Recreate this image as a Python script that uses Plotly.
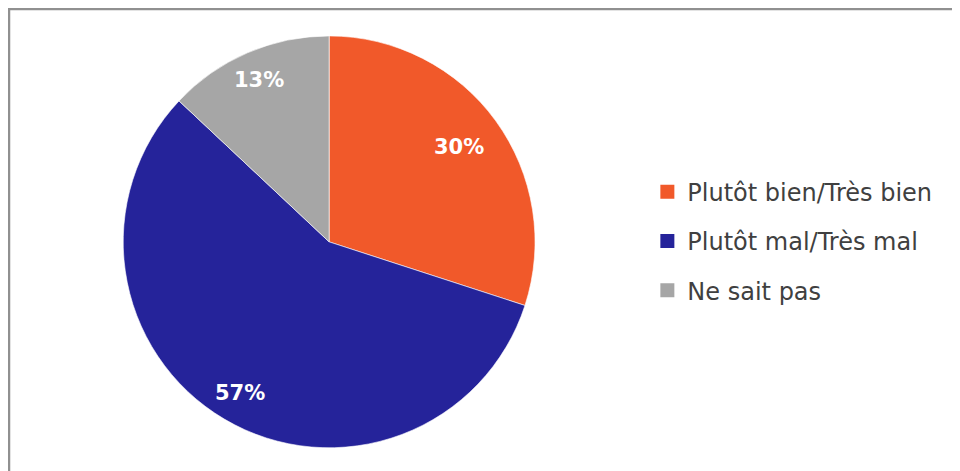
import math
import plotly.graph_objects as go

labels = ["Plutôt bien/Très bien", "Plutôt mal/Très mal", "Ne sait pas"]
values = [30, 57, 13]
colors = ["#F1592A", "#25239A", "#A6A6A6"]

W, H = 960, 471
dom_x = [0.120, 0.549]
dom_y = [0.066, 0.941]

fig = go.Figure()
fig.add_trace(go.Pie(
    labels=labels, values=values, sort=False, direction="clockwise", rotation=0,
    marker=dict(colors=colors, line=dict(color="white", width=0.6)),
    textinfo="none",
    domain=dict(x=dom_x, y=dom_y),
    showlegend=False, hoverinfo="label+percent",
))
for i, (lab, col) in enumerate(zip(labels, colors)):
    fig.add_trace(go.Scatter(
        x=[None], y=[None], mode="markers", name=lab, legendgroup=f"g{i}",
        marker=dict(symbol="square", size=14, color=col),
        showlegend=True,
    ))

# percentage labels placed along each slice's mid-angle (pie centre in figure px)
cx = (dom_x[0] + dom_x[1]) / 2
cy = (dom_y[0] + dom_y[1]) / 2
r_px = 206
label_r = [0.78, 0.85, 0.855]
total = sum(values)
cum = 0
annotations = []
for v, fr in zip(values, label_r):
    mid = (cum + v / 2) / total * 2 * math.pi
    cum += v
    dx = math.sin(mid) * r_px * fr
    dy = math.cos(mid) * r_px * fr
    annotations.append(dict(
        x=cx + dx / W, y=cy + dy / H, xref="paper", yref="paper",
        xanchor="center", yanchor="middle",
        text=f"{v}%", showarrow=False,
        font=dict(family="DejaVu Sans", size=21, color="white", weight="bold"),
    ))

fig.update_layout(
    width=W, height=H, margin=dict(l=0, r=0, t=0, b=0),
    paper_bgcolor="white", plot_bgcolor="white",
    xaxis=dict(visible=False), yaxis=dict(visible=False),
    legend=dict(x=0.666, y=0.505, xanchor="left", yanchor="middle",
                font=dict(family="DejaVu Sans", size=24, color="#404040"),
                tracegroupgap=15, itemsizing="trace", bgcolor="rgba(0,0,0,0)"),
    annotations=annotations,
    shapes=[dict(type="rect", xref="paper", yref="paper",
                 x0=1/W, x1=1.05, y0=-0.05, y1=1-1/H,
                 line=dict(color="#909090", width=2.5), fillcolor="rgba(0,0,0,0)", layer="below")],
)
fig.write_html("out.html")
